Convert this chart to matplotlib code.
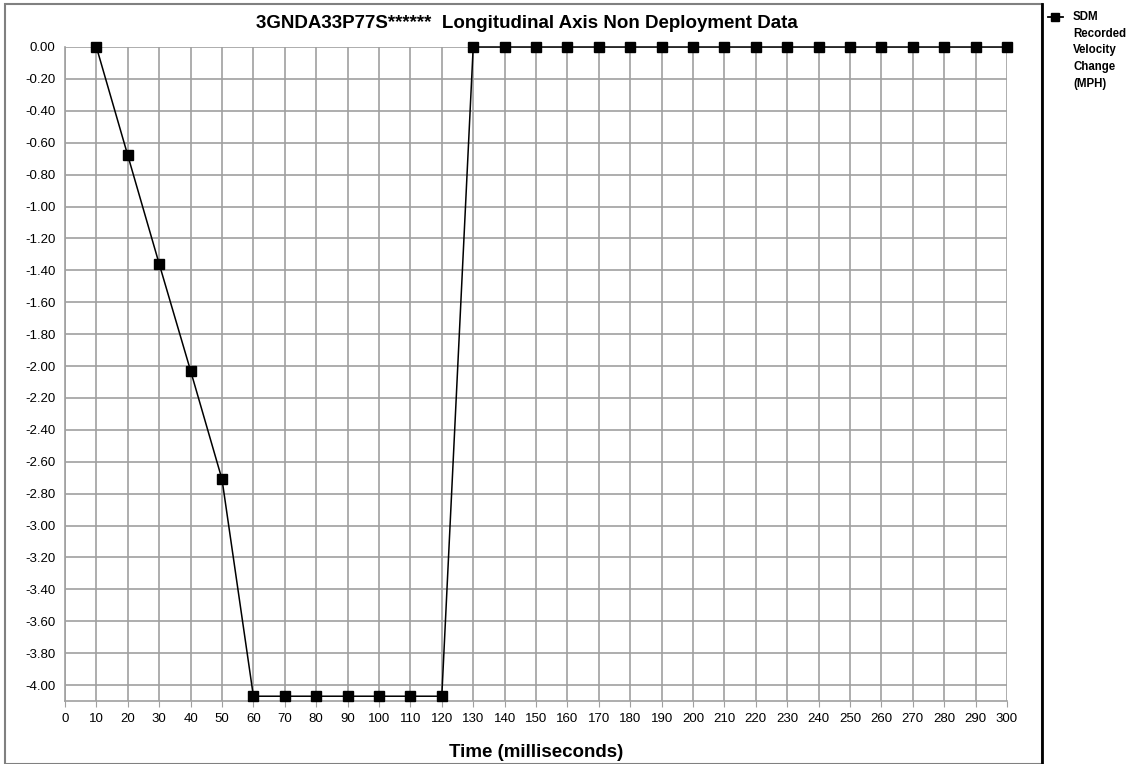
import matplotlib
matplotlib.use("Agg")
import matplotlib.pyplot as plt
from matplotlib.lines import Line2D
from matplotlib.patches import Rectangle

plt.rcParams["font.family"] = ["Liberation Sans", "DejaVu Sans"]

# data
time_ms = [10, 20, 30, 40, 50, 60, 70, 80, 90, 100, 110, 120, 130, 140, 150, 160, 170,
           180, 190, 200, 210, 220, 230, 240, 250, 260, 270, 280, 290, 300]
delta_v = [0.00, -0.68, -1.36, -2.03, -2.71, -4.07, -4.07, -4.07, -4.07, -4.07, -4.07, -4.07,
           0.00, 0.00, 0.00, 0.00, 0.00, 0.00, 0.00, 0.00, 0.00, 0.00, 0.00, 0.00, 0.00,
           0.00, 0.00, 0.00, 0.00, 0.00]
x_ticks = list(range(0, 301, 10))
y_ticks = [round(-0.2 * i, 2) for i in range(21)]
y_labels = ["0.00"] + [f"{v:.2f}" for v in y_ticks[1:]]
title = "3GNDA33P77S******  Longitudinal Axis Non Deployment Data"
legend_label = "SDM\nRecorded\nVelocity\nChange\n(MPH)"

W, H = 1138, 764
fig = plt.figure(figsize=(W / 100, H / 100), dpi=100)
ax = fig.add_axes([65 / W, 1 - 701 / H, (1007 - 65) / W, (701 - 47) / H])

ax.plot(time_ms, delta_v, color="black", lw=1.1, marker="s", ms=7, clip_on=False, zorder=3)

ax.set_xlim(0, 300)
ax.set_ylim(-4.1, 0)
ax.set_xticks(x_ticks)
ax.set_yticks(y_ticks)
ax.set_yticklabels(y_labels)
ax.grid(True, color="#a0a0a0", lw=1.2)
ax.set_axisbelow(True)
for s in ("top", "right"):
    ax.spines[s].set_visible(False)
for s in ("left", "bottom"):
    ax.spines[s].set_color("#a0a0a0")
    ax.spines[s].set_linewidth(1.2)
ax.tick_params(axis="x", length=4, color="#a0a0a0", labelsize=9.5, pad=5)
ax.tick_params(axis="y", length=0, labelsize=9.5, pad=7)

ax.set_xlabel("Time (milliseconds)", fontsize=13.5, fontweight="bold", labelpad=13)
fig.text(527 / W, 1 - 24 / H, title, ha="center", va="center", fontsize=13.5, fontweight="bold")

# chart frame and legend panel
fig.patches.append(Rectangle((5 / W, 0), (1042 - 5) / W, 1 - 4 / H, transform=fig.transFigure,
                             fill=False, ec="#808080", lw=1.5))
fig.lines.append(Line2D([1042 / W, 1042 / W], [0, 1 - 4 / H], transform=fig.transFigure,
                        color="black", lw=2))
fig.lines.append(Line2D([1048 / W, 1063 / W], [1 - 17 / H, 1 - 17 / H], transform=fig.transFigure,
                        color="black", lw=1.3))
fig.lines.append(Line2D([1055 / W], [1 - 17 / H], transform=fig.transFigure,
                        color="black", marker="s", ms=6, lw=0))
fig.text(1073 / W, 1 - 11 / H, legend_label, ha="left", va="top", fontsize=8.3,
         fontweight="bold", linespacing=1.52)

fig.savefig("out.png", dpi=100)
